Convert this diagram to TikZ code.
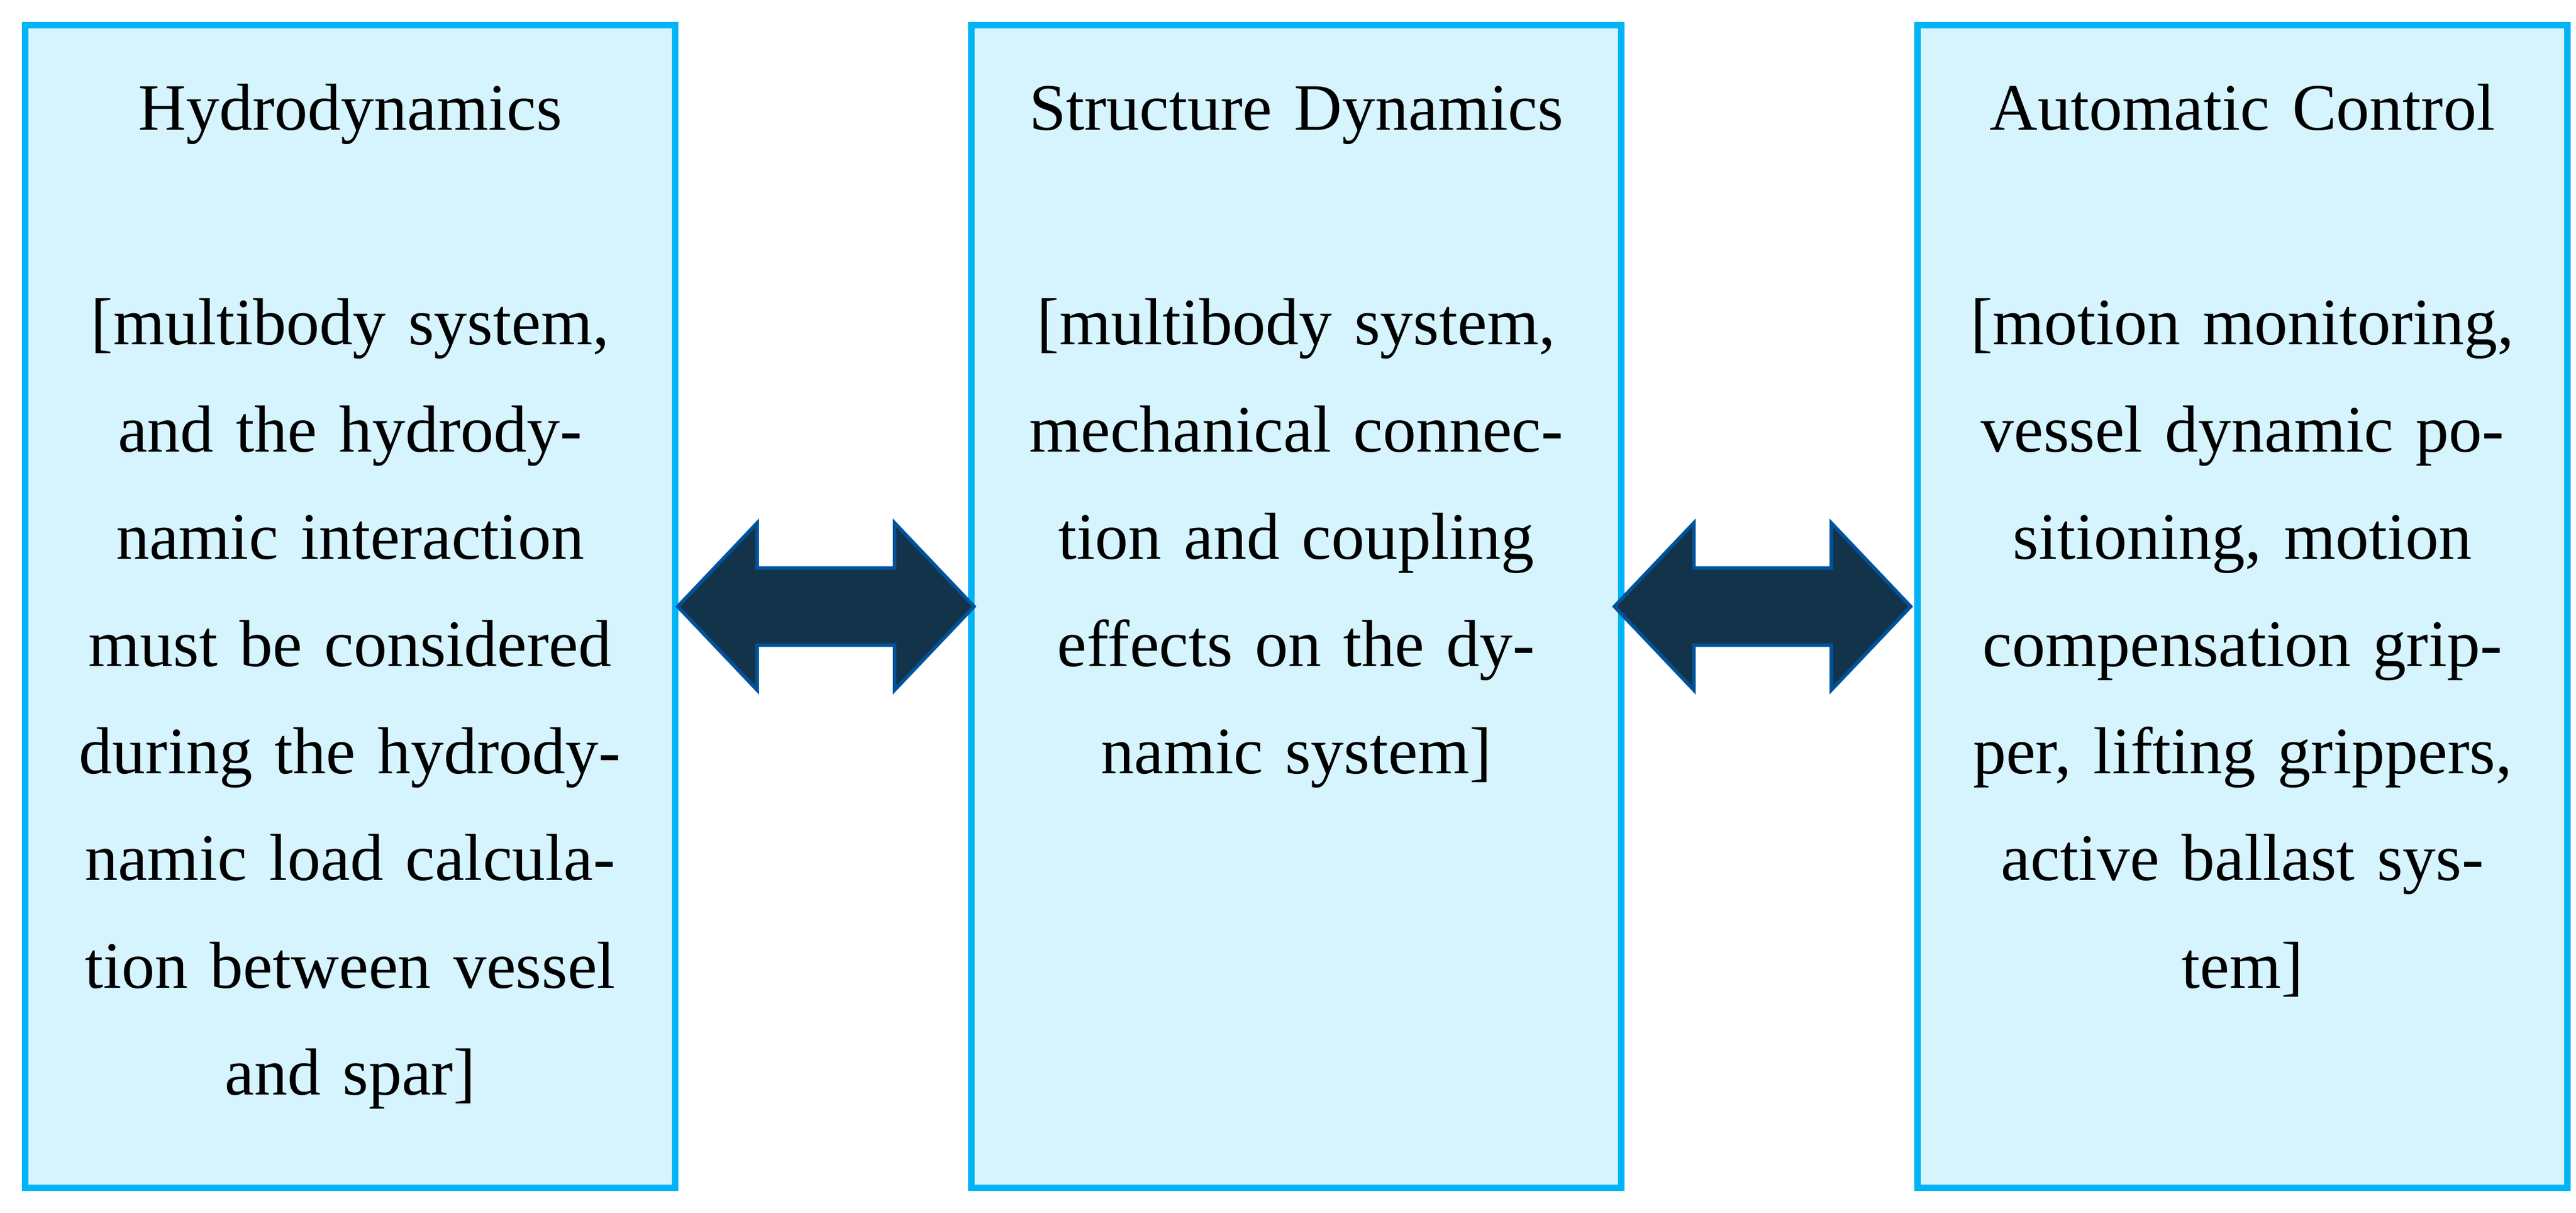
\documentclass[tikz,border=0pt]{standalone}
\usepackage{fontspec}
\setmainfont{Liberation Serif}
\usepackage{tikz}
\usetikzlibrary{positioning}
\definecolor{boxline}{HTML}{00B4F5}
\definecolor{boxfill}{HTML}{D6F4FE}
\definecolor{arrowfill}{HTML}{12334A}
\definecolor{arrowline}{HTML}{00529B}
\tikzset{
  area/.style={draw=boxline,fill=boxfill,line width=1.1pt,
    minimum width=109.7pt,minimum height=196.2pt,inner sep=0pt},
  areatext/.style={text width=108pt,align=center,inner sep=0pt,
    font=\fontsize{11.2pt}{18.1pt}\selectfont,anchor=base},
  link/.style={draw=arrowline,fill=arrowfill,line width=0.6pt,line join=miter}
}

\begin{document}
\begin{tikzpicture}
\useasboundingbox (0,0) rectangle (434.8pt,204.6pt);

\node [area] (hyd) at (59.1pt,102.25pt) {};
\node [area,right=48.9pt of hyd] (struc) {};
\node [area,right=48.9pt of struc] (ctrl) {};

\node [areatext] (hydtxt) at ([yshift=-18.2pt]hyd.north) {Hydrodynamics\\[18.1pt]
  [multibody system,\\ and the hydrody-\\ namic interaction\\ must be considered\\
  during the hydrody-\\ namic load calcula-\\ tion between vessel\\ and spar]};
\node [areatext] (structxt) at ([yshift=-18.2pt]struc.north) {Structure Dynamics\\[18.1pt]
  [multibody system,\\ mechanical connec-\\ tion and coupling\\ effects on the dy-\\
  namic system]};
\node [areatext] (ctrltxt) at ([yshift=-18.2pt]ctrl.north) {Automatic Control\\[18.1pt]
  [motion monitoring,\\ vessel dynamic po-\\ sitioning, motion\\ compensation grip-\\
  per, lifting grippers,\\ active ballast sys-\\ tem]};

% double arrows between the boxes
\draw [link] ([xshift=-0.1pt]hyd.east) -- ++(13.4pt,14.1pt) -- ++(0,-7.6pt)
  -- ++(23.2pt,0) -- ++(0,7.6pt) -- ++(13.4pt,-14.1pt) -- ++(-13.4pt,-14.1pt)
  -- ++(0,7.6pt) -- ++(-23.2pt,0) -- ++(0,-7.6pt) -- cycle;
\draw [link] ([xshift=-1.7pt]struc.east) -- ++(13.4pt,14.1pt) -- ++(0,-7.6pt)
  -- ++(23.2pt,0) -- ++(0,7.6pt) -- ++(13.4pt,-14.1pt) -- ++(-13.4pt,-14.1pt)
  -- ++(0,7.6pt) -- ++(-23.2pt,0) -- ++(0,-7.6pt) -- cycle;

\end{tikzpicture}
\end{document}
